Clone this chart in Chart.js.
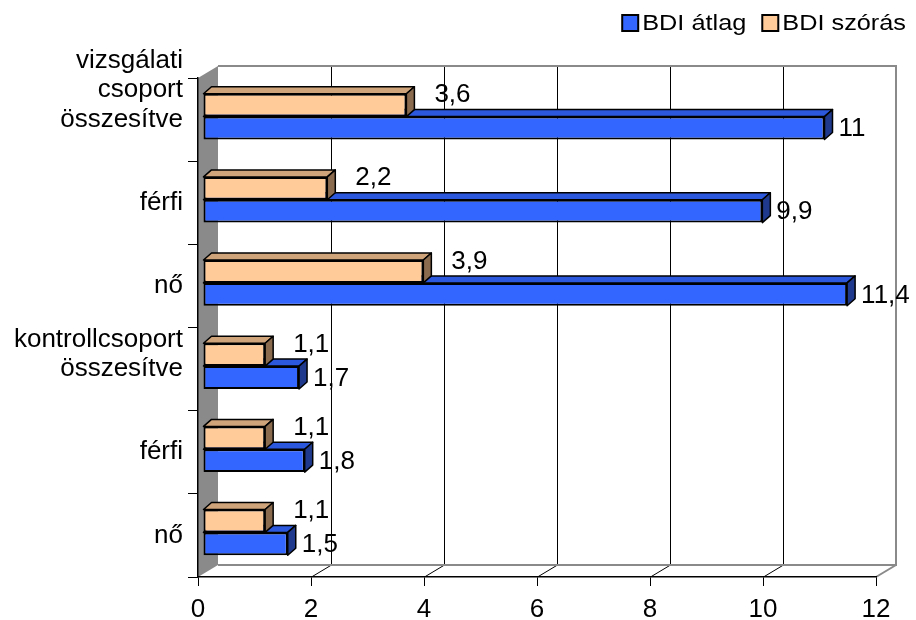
<!DOCTYPE html>
<html lang="hu">
<head>
<meta charset="UTF-8" />
<title>BDI átlag és szórás</title>
<script src="https://cdn.jsdelivr.net/npm/chart.js"></script>
<style>
  html, body { margin: 0; padding: 0; background: #fff; }
  #wrap { width: 916px; height: 620px; }
</style>
</head>
<body>
<div id="wrap"><canvas id="bdiChart" width="916" height="620"></canvas></div>
<script>
// data
const categories = [
  ['vizsgálati', 'csoport', 'összesítve'],
  'férfi',
  'nő',
  ['kontrollcsoport', 'összesítve'],
  'férfi',
  'nő'
];
const bdiAtlag = [11, 9.9, 11.4, 1.7, 1.8, 1.5];
const bdiSzoras = [3.6, 2.2, 3.9, 1.1, 1.1, 1.1];
const xTicks = [0, 2, 4, 6, 8, 10, 12];

const FONT = "'Liberation Sans', Arial, sans-serif";
Chart.defaults.font.family = FONT;
Chart.defaults.color = '#000';

// 3d look
const WALL = { dx: 20, dy: -12 };   // depth of the back wall
const BAR_SHIFT = { x: 5, y: -3 };  // bars sit a bit behind the front axis
const BAR_D = { dx: 8, dy: -7 };    // depth of each bar

const faceColors = {
  'BDI átlag': { top: '#2c58dd', side: '#1f3a8c' },
  'BDI szórás': { top: '#cfa47b', side: '#8b6b4e' }
};

const fmt = v => String(v).replace('.', ',');

function drawBarFaces(chart, dsIndex) {
  const ctx = chart.ctx;
  const meta = chart.getDatasetMeta(dsIndex);
  const cols = faceColors[chart.data.datasets[dsIndex].label];
  ctx.lineWidth = 1.5;
  ctx.lineJoin = 'round';
  ctx.strokeStyle = '#000';
  meta.data.forEach(el => {
    const p = el.getProps(['x', 'y', 'base', 'height'], true);
    const t = p.y - p.height / 2, b = p.y + p.height / 2;
    // top face
    ctx.beginPath();
    ctx.moveTo(p.base, t);
    ctx.lineTo(p.base + BAR_D.dx, t + BAR_D.dy);
    ctx.lineTo(p.x + BAR_D.dx, t + BAR_D.dy);
    ctx.lineTo(p.x, t);
    ctx.closePath();
    ctx.fillStyle = cols.top;
    ctx.fill();
    ctx.stroke();
    // side face
    ctx.beginPath();
    ctx.moveTo(p.x, t);
    ctx.lineTo(p.x + BAR_D.dx, t + BAR_D.dy);
    ctx.lineTo(p.x + BAR_D.dx, b + BAR_D.dy);
    ctx.lineTo(p.x, b);
    ctx.closePath();
    ctx.fillStyle = cols.side;
    ctx.fill();
    ctx.stroke();
  });
}

function drawValueLabels(chart, dsIndex, gap, lift) {
  const ctx = chart.ctx;
  const meta = chart.getDatasetMeta(dsIndex);
  const vals = chart.data.datasets[dsIndex].data;
  ctx.font = '26px ' + FONT;
  ctx.fillStyle = '#000';
  ctx.textAlign = 'left';
  ctx.textBaseline = 'middle';
  meta.data.forEach((el, i) => {
    const p = el.getProps(['x', 'y'], true);
    ctx.fillText(fmt(vals[i]), p.x + BAR_D.dx + gap, p.y + lift);
  });
}

const box3d = {
  id: 'box3d',
  beforeDraw(chart) {
    const ctx = chart.ctx;
    const xs = chart.scales.x;
    const top = chart.chartArea.top, bottom = chart.chartArea.bottom;
    const left = xs.getPixelForValue(0), right = xs.getPixelForValue(12);
    ctx.save();
    ctx.fillStyle = '#fff';
    ctx.fillRect(0, 0, chart.width, chart.height);
    // side wall
    ctx.beginPath();
    ctx.moveTo(left, top);
    ctx.lineTo(left + WALL.dx, top + WALL.dy);
    ctx.lineTo(left + WALL.dx, bottom + WALL.dy);
    ctx.lineTo(left, bottom);
    ctx.closePath();
    ctx.fillStyle = '#8a8a8a';
    ctx.fill();
    // grid lines on back wall and floor
    ctx.strokeStyle = '#000';
    ctx.lineWidth = 1;
    xTicks.slice(1, -1).forEach(v => {
      const px = Math.round(xs.getPixelForValue(v)) + 0.5;
      ctx.beginPath();
      ctx.moveTo(px + WALL.dx, top + WALL.dy);
      ctx.lineTo(px + WALL.dx, bottom + WALL.dy);
      ctx.lineTo(px, bottom);
      ctx.stroke();
    });
    // back wall frame
    ctx.strokeStyle = '#8a8a8a';
    ctx.lineWidth = 2;
    ctx.beginPath();
    ctx.moveTo(left + WALL.dx, top + WALL.dy);
    ctx.lineTo(right + WALL.dx, top + WALL.dy);
    ctx.lineTo(right + WALL.dx, bottom + WALL.dy);
    ctx.lineTo(left + WALL.dx, bottom + WALL.dy);
    ctx.moveTo(right + WALL.dx, bottom + WALL.dy);
    ctx.lineTo(right, bottom);
    ctx.stroke();
    ctx.restore();
  },
  beforeDatasetsDraw(chart) {
    chart.ctx.save();
    chart.ctx.translate(BAR_SHIFT.x, BAR_SHIFT.y);
    // lower bar of each pair (átlag) goes first so the upper one covers it
    drawBarFaces(chart, 1);
  },
  afterDatasetsDraw(chart) {
    drawBarFaces(chart, 0);
    drawValueLabels(chart, 0, 20, -10);
    drawValueLabels(chart, 1, 6, 1);
    chart.ctx.restore();
  },
  afterDraw(chart) {
    // legend, top right, in series order
    const ctx = chart.ctx;
    const items = [chart.data.datasets[1], chart.data.datasets[0]];
    const sx = 1.15, box = 16, gapText = 4, gapItem = 16;
    ctx.save();
    ctx.font = '22px ' + FONT;
    ctx.textBaseline = 'middle';
    ctx.textAlign = 'left';
    const widths = items.map(d => ctx.measureText(d.label).width * sx);
    const total = widths.reduce((a, w) => a + box + gapText + w, 0) + gapItem * (items.length - 1);
    let x = 906 - total;
    const cy = 23;
    items.forEach((d, i) => {
      ctx.fillStyle = d.backgroundColor;
      ctx.fillRect(x, cy - box / 2, box, box);
      ctx.strokeStyle = '#000';
      ctx.lineWidth = 2;
      ctx.strokeRect(x, cy - box / 2, box, box);
      ctx.save();
      ctx.translate(x + box + gapText, cy);
      ctx.scale(sx, 1);
      ctx.fillStyle = '#000';
      ctx.fillText(d.label, 0, 1);
      ctx.restore();
      x += box + gapText + widths[i] + gapItem;
    });
    ctx.restore();
  }
};

new Chart(document.getElementById('bdiChart'), {
  type: 'bar',
  data: {
    labels: categories,
    datasets: [
      {
        label: 'BDI szórás',
        data: bdiSzoras,
        backgroundColor: '#ffcc99',
        borderColor: '#000',
        borderWidth: 2,
        borderSkipped: false
      },
      {
        label: 'BDI átlag',
        data: bdiAtlag,
        backgroundColor: '#3366ff',
        borderColor: '#000',
        borderWidth: 2,
        borderSkipped: false
      }
    ]
  },
  options: {
    indexAxis: 'y',
    responsive: false,
    animation: false,
    events: [],
    layout: { padding: { top: 78, right: 40, bottom: 0, left: 0 } },
    datasets: { bar: { barPercentage: 1, categoryPercentage: 0.55 } },
    plugins: { legend: { display: false }, tooltip: { enabled: false } },
    scales: {
      x: {
        min: 0,
        max: 12,
        afterBuildTicks: s => { s.ticks = xTicks.map(v => ({ value: v })); },
        afterFit: s => { s.height = 43; s.paddingLeft = 0; s.paddingRight = 0; },
        grid: { drawOnChartArea: false, color: '#000', tickLength: 9 },
        border: { color: '#000', width: 1.5 },
        ticks: { font: { size: 26, lineHeight: 1 }, padding: 11, color: '#000' }
      },
      y: {
        afterFit: s => { s.width = 198; s.paddingTop = 0; s.paddingBottom = 0; },
        grid: { drawOnChartArea: false, color: '#000', tickLength: 10, offset: true },
        border: { color: '#000', width: 1.5 },
        ticks: {
          autoSkip: false,
          font: { size: 26, lineHeight: 1.135 },
          padding: 5,
          color: '#000',
          // last line of a label sits on the category centre
          callback: (v, i) => {
            const l = categories[i];
            return Array.isArray(l) ? l.concat(Array(l.length - 1).fill('')) : l;
          }
        }
      }
    }
  },
  plugins: [box3d]
});
</script>
</body>
</html>
